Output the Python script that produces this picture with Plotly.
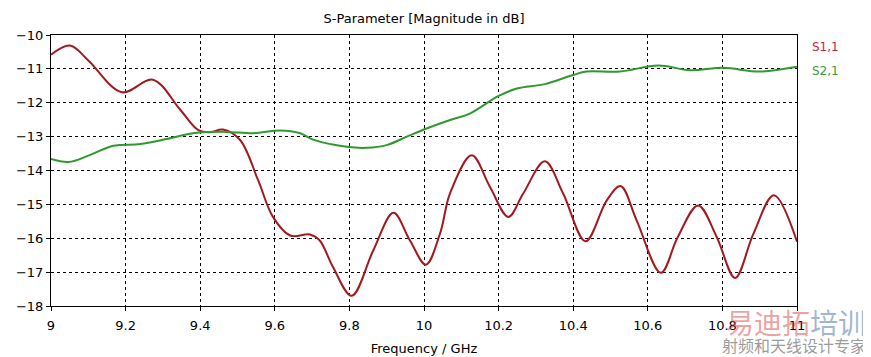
import plotly.graph_objects as go

# S1,1 (red)
s11_freq = [9.0, 9.051, 9.10, 9.19, 9.273, 9.346, 9.394, 9.426, 9.461, 9.507, 9.555, 9.595,
            9.641, 9.694, 9.72, 9.756, 9.806, 9.864, 9.918, 9.962, 10.005, 10.043, 10.07,
            10.128, 10.177, 10.226, 10.266, 10.324, 10.373, 10.433, 10.49, 10.527, 10.57,
            10.635, 10.68, 10.735, 10.785, 10.834, 10.883, 10.938, 11.0]
s11_db = [-10.58, -10.31, -10.75, -11.69, -11.32, -12.2, -12.8, -12.87, -12.79, -13.1, -14.28, -15.37,
          -15.92, -15.89, -16.06, -16.85, -17.7, -16.36, -15.25, -16.06, -16.78, -15.86, -14.67,
          -13.55, -14.49, -15.37, -14.68, -13.73, -14.68, -16.09, -14.88, -14.46, -15.47,
          -17.02, -15.97, -15.03, -15.97, -17.17, -15.87, -14.73, -16.1]

# S2,1 (green)
s21_freq = [9.0, 9.047, 9.105, 9.167, 9.239, 9.31, 9.381, 9.47, 9.542, 9.614, 9.668, 9.703,
            9.793, 9.846, 9.9, 9.954, 10.007, 10.07, 10.123, 10.2, 10.249, 10.324, 10.4,
            10.436, 10.525, 10.628, 10.713, 10.802, 10.9, 11.0]
s21_db = [-13.66, -13.75, -13.54, -13.27, -13.22, -13.07, -12.9, -12.86, -12.9, -12.82, -12.9, -13.09,
          -13.3, -13.33, -13.25, -13.0, -12.76, -12.51, -12.32, -11.8, -11.58, -11.45, -11.18,
          -11.08, -11.08, -10.9, -11.04, -10.97, -11.08, -10.94]

x_ticks = [9, 9.2, 9.4, 9.6, 9.8, 10, 10.2, 10.4, 10.6, 10.8, 11]
x_tick_labels = ["9", "9.2", "9.4", "9.6", "9.8", "10", "10.2", "10.4", "10.6", "10.8", "11"]
y_ticks = [-10, -11, -12, -13, -14, -15, -16, -17, -18]

red = "#a31a1e"
green = "#2e9a2e"

fig = go.Figure()
fig.add_trace(go.Scatter(x=s11_freq, y=s11_db, mode="lines", name="S1,1",
                         line=dict(color=red, width=2, shape="spline", smoothing=1.0)))
fig.add_trace(go.Scatter(x=s21_freq, y=s21_db, mode="lines", name="S2,1",
                         line=dict(color=green, width=2, shape="spline", smoothing=1.0)))

axis_common = dict(showline=True, linecolor="black", linewidth=1, mirror=True,
                   showgrid=True, gridcolor="black", griddash="3px,3px", gridwidth=1,
                   ticks="outside", ticklen=4, tickcolor="black", zeroline=False,
                   automargin=False,
                   tickfont=dict(family="DejaVu Sans", size=13, color="black"))

# page body adds an 8px offset; sizes compensate so the plot lands at x 51..797, y 35..306
fig.update_layout(
    width=863, height=349,
    margin=dict(l=43, r=74, t=27, b=51),
    paper_bgcolor="white", plot_bgcolor="white",
    showlegend=False,
    title=dict(text="S-Parameter [Magnitude in dB]", x=(43 + 746 / 2) / 863, xanchor="center",
               y=1 - 10 / 349, yanchor="middle",
               font=dict(family="DejaVu Sans", size=13, color="black")),
    xaxis=dict(range=[9, 11], tickvals=x_ticks, ticktext=x_tick_labels, ticklabelstandoff=3,
               title=dict(text="Frequency / GHz", standoff=12,
                          font=dict(family="DejaVu Sans", size=13, color="black")),
               **axis_common),
    yaxis=dict(range=[-18, -10], tickvals=y_ticks, **axis_common),
    font=dict(family="DejaVu Sans", color="black"),
)

fig.add_annotation(x=1.017, y=(-10.35 + 18) / 8, xref="paper", yref="paper", text="S1,1",
                   showarrow=False, xanchor="left", yanchor="middle",
                   font=dict(family="DejaVu Sans", size=12, color="#c0283a"))
fig.add_annotation(x=1.017, y=(-11.05 + 18) / 8, xref="paper", yref="paper", text="S2,1",
                   showarrow=False, xanchor="left", yanchor="middle",
                   font=dict(family="DejaVu Sans", size=12, color="#3a9a3a"))

# watermark
fig.add_annotation(x=(868 - 51) / 746, y=(306 - 322) / 271, xref="paper", yref="paper",
                   text="<span style='color:rgba(220,70,70,0.5)'>易迪拓</span><span style='color:rgba(70,110,170,0.5)'>培训</span>",
                   showarrow=False, xanchor="right", yanchor="middle",
                   font=dict(family="Noto Sans CJK SC", size=28))
fig.add_annotation(x=(868 - 51) / 746, y=(306 - 345) / 271, xref="paper", yref="paper",
                   text="射频和天线设计专家",
                   showarrow=False, xanchor="right", yanchor="middle",
                   font=dict(family="Noto Sans CJK SC", size=16, color="rgba(110,110,110,0.7)"))

fig.write_html("out.html")
